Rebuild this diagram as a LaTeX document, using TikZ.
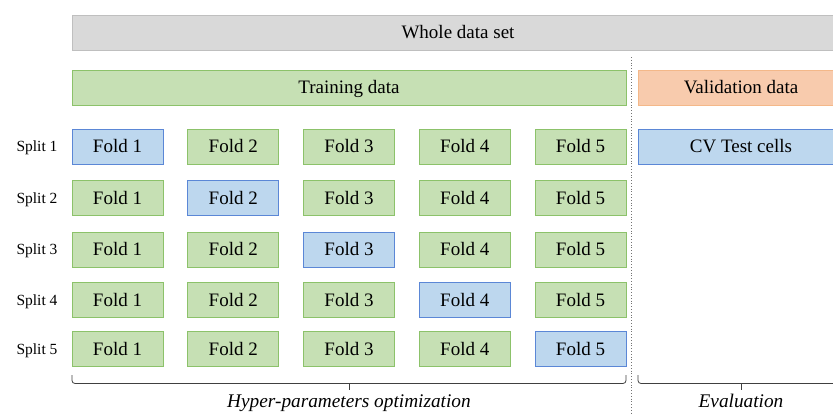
\documentclass[tikz,border=0pt]{standalone}
\usepackage{fontspec}
\setmainfont{Liberation Serif}
\definecolor{grayfill}{HTML}{D9D9D9}
\definecolor{grayline}{HTML}{BFBFBF}
\definecolor{greenfill}{HTML}{C6E0B4}
\definecolor{greenline}{HTML}{8CC26A}
\definecolor{bluefill}{HTML}{BDD7EE}
\definecolor{blueline}{HTML}{5B87D6}
\definecolor{orangefill}{HTML}{F8CBAD}
\definecolor{orangeline}{HTML}{F4B889}
\begin{document}
\begin{tikzpicture}[x=1pt,y=-1pt,
  box/.style={draw, line width=1pt, minimum height=35pt, inner sep=0pt,
    font=\fontsize{19}{19}\selectfont, text height=12.5pt, text depth=0pt},
  graybox/.style={box, fill=grayfill, draw=grayline},
  greenbox/.style={box, fill=greenfill, draw=greenline},
  bluebox/.style={box, fill=bluefill, draw=blueline},
  orangebox/.style={box, fill=orangefill, draw=orangeline},
  fold/.style={minimum width=91pt},
  splitlabel/.style={font=\fontsize{15.5}{15.5}\selectfont, inner sep=0pt,
    text height=10.2pt, text depth=0pt},
  bracket/.style={draw=black!75, line width=0.8pt, rounded corners=3pt},
  steplabel/.style={font=\fontsize{19.3}{19.3}\selectfont\itshape, inner sep=0pt,
    text height=12.7pt, text depth=0pt}
]
\useasboundingbox (0,0) rectangle (833,413);
\clip (0,0) rectangle (833,413);

% top bars
\node[graybox, minimum width=772pt] (whole) at (458,32.5) {Whole data set};
\node[greenbox, minimum width=554pt] (train) at (349,87.5) {Training data};
\node[orangebox, minimum width=206pt] (valid) at (741,87.5) {Validation data};

% separator between training and validation
\coordinate (septop) at (631,57);
\coordinate (sepbot) at (631,413);
\draw[black!55, line width=0.8pt, dotted] (septop) -- (sepbot);

% folds of each split; the held-out fold is blue
\foreach \r/\y in {1/146.5, 2/198, 3/249.5, 4/300, 5/349} {
  \node[splitlabel] (s\r) at (37,\y) {Split \r};
  \foreach \c in {1,...,5} {
    \pgfmathsetmacro{\xx}{117.5+115.75*(\c-1)}
    \ifnum\c=\r
      \node[bluebox, fold] (f\r\c) at (\xx,\y) {Fold \c};
    \else
      \node[greenbox, fold] (f\r\c) at (\xx,\y) {Fold \c};
    \fi
  }
}
\node[bluebox, minimum width=206pt] (cvtest) at (741,146.5) {CV Test cells};

% brackets below the splits
\coordinate (hl) at (72,375);
\coordinate (hr) at (626,375);
\coordinate (hm) at (349,383.5);
\coordinate (hmt) at (349,390);
\path[bracket] (hl) |- (hm) -| (hr);
\draw[black!75, line width=0.8pt] (hm) -- (hmt);
\node[steplabel] (hyper) at (349,401.5) {Hyper-parameters optimization};

\coordinate (el) at (638,375);
\coordinate (er) at (844,375);
\coordinate (em) at (741,383.5);
\coordinate (emt) at (741,390);
\path[bracket] (el) |- (em) -| (er);
\draw[black!75, line width=0.8pt] (em) -- (emt);
\node[steplabel] (evalu) at (741,401.5) {Evaluation};
\end{tikzpicture}
\end{document}
